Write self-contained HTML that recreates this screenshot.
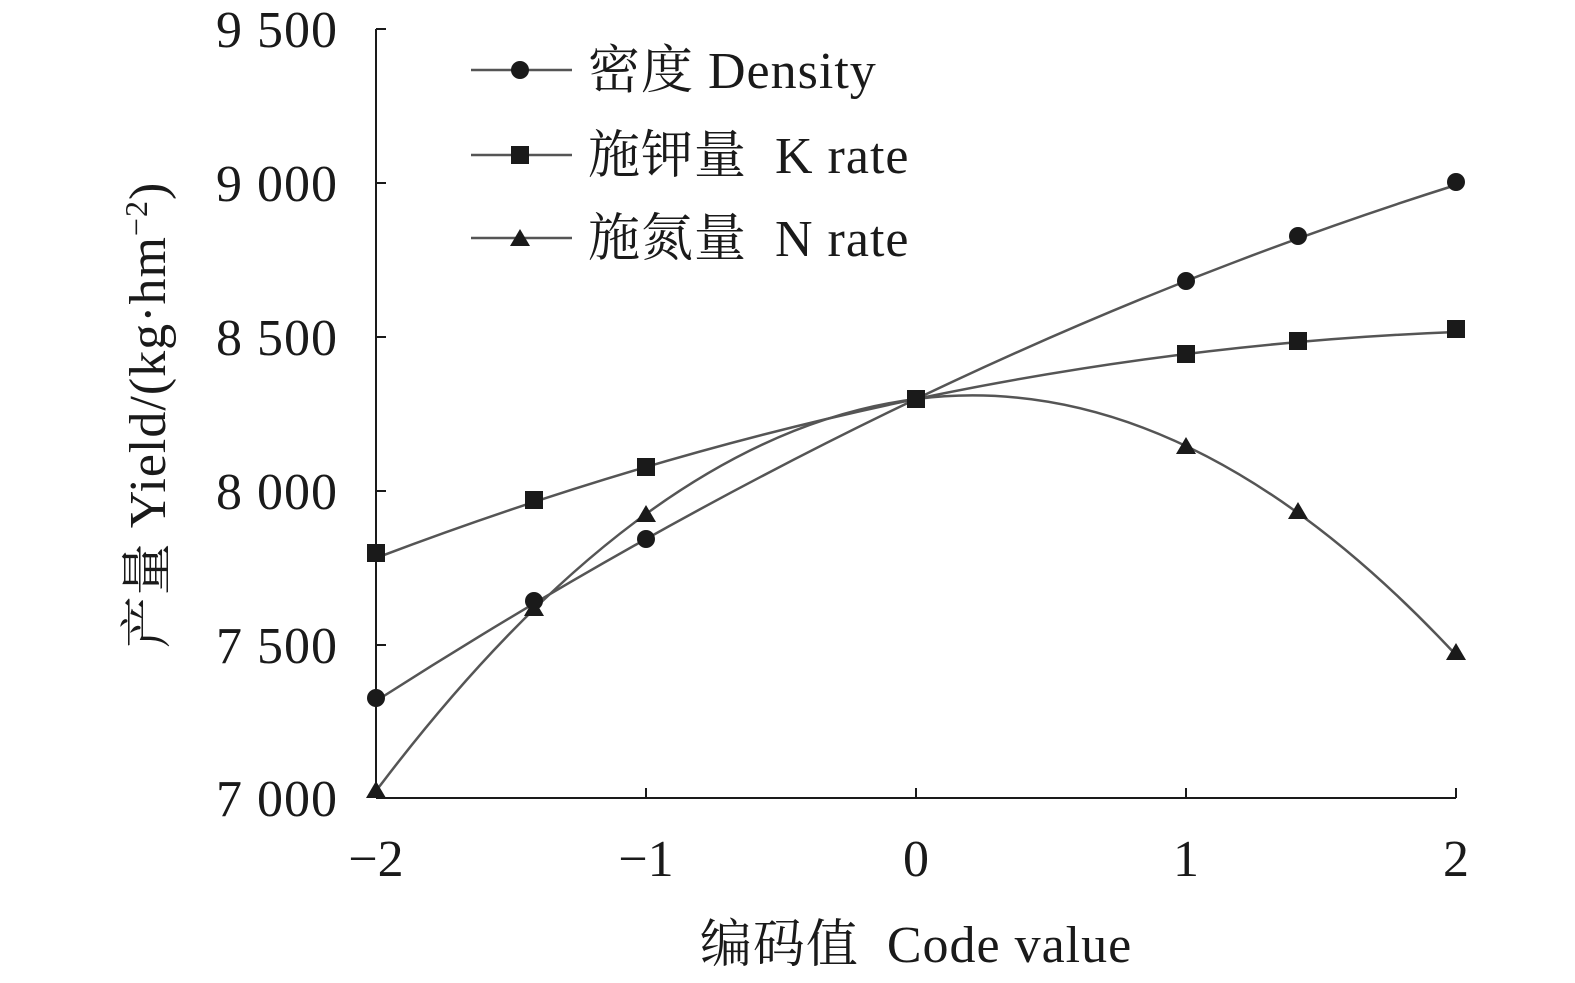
<!DOCTYPE html>
<html><head><meta charset="utf-8"><style>
html,body{margin:0;padding:0;background:#fff;}
svg{display:block;}
text{font-family:"Liberation Serif","Noto Serif CJK SC","Noto Sans CJK SC",serif;fill:#1a1a1a;}
</style></head><body>
<svg width="1575" height="983" viewBox="0 0 1575 983" xmlns="http://www.w3.org/2000/svg">
<g stroke="#1a1a1a" stroke-width="2" fill="none">
<line x1="376" y1="29" x2="376" y2="798"/>
<line x1="376" y1="798" x2="1456" y2="798"/>
<line x1="376" y1="29" x2="386" y2="29"/>
<line x1="376" y1="183" x2="386" y2="183"/>
<line x1="376" y1="337" x2="386" y2="337"/>
<line x1="376" y1="491" x2="386" y2="491"/>
<line x1="376" y1="645" x2="386" y2="645"/>
<line x1="646" y1="798" x2="646" y2="788"/>
<line x1="916" y1="798" x2="916" y2="788"/>
<line x1="1186" y1="798" x2="1186" y2="788"/>
<line x1="1456" y1="798" x2="1456" y2="788"/>
</g>
<g font-size="52" text-anchor="end" letter-spacing="1">
<text x="338" y="47">9 500</text>
<text x="338" y="201">9 000</text>
<text x="338" y="355">8 500</text>
<text x="338" y="509">8 000</text>
<text x="338" y="663">7 500</text>
<text x="338" y="816">7 000</text>
</g>
<g font-size="52" text-anchor="middle">
<text x="376" y="876">−2</text>
<text x="646" y="876">−1</text>
<text x="916" y="876">0</text>
<text x="1186" y="876">1</text>
<text x="1456" y="876">2</text>
<text x="916" y="962" letter-spacing="1">编码值&#160; Code value</text>
</g>
<text font-size="52" text-anchor="middle" letter-spacing="1" transform="translate(165,415) rotate(-90)">产量 Yield/(kg·hm<tspan baseline-shift="super" font-size="32">−2</tspan>)</text>
<g stroke="#555" stroke-width="2.5" fill="none">
<path d="M376,701 Q916,355 1456,185"/>
<path d="M376,558 Q916,353 1456,332"/>
<path d="M376,791 Q916,75 1456,655"/>
<line x1="471" y1="70" x2="572" y2="70"/>
<line x1="471" y1="155" x2="572" y2="155"/>
<line x1="471" y1="238" x2="572" y2="238"/>
</g>
<g fill="#1a1a1a">
<circle cx="376" cy="698" r="9"/><circle cx="534" cy="601" r="9"/><circle cx="646" cy="539" r="9"/><circle cx="916" cy="399" r="9"/><circle cx="1186" cy="281" r="9"/><circle cx="1298" cy="236" r="9"/><circle cx="1456" cy="182" r="9"/>
<rect x="367" y="544" width="18" height="18"/><rect x="525" y="491" width="18" height="18"/><rect x="637" y="458" width="18" height="18"/><rect x="907" y="390" width="18" height="18"/><rect x="1177" y="345" width="18" height="18"/><rect x="1289" y="332" width="18" height="18"/><rect x="1447" y="320" width="18" height="18"/>
<path d="M376,781 l10,17 h-20z"/><path d="M534,599 l10,17 h-20z"/><path d="M646,505 l10,17 h-20z"/><path d="M1186,437 l10,17 h-20z"/><path d="M1298,502 l10,17 h-20z"/><path d="M1456,643 l10,17 h-20z"/>
<circle cx="520" cy="70" r="9"/>
<rect x="511" y="146" width="18" height="18"/>
<path d="M520,229 l10,17 h-20z"/>
</g>
<g font-size="52" letter-spacing="1">
<text x="588" y="88">密度 Density</text>
<text x="588" y="173">施钾量&#160; K rate</text>
<text x="588" y="256">施氮量&#160; N rate</text>
</g>
</svg>
</body></html>
